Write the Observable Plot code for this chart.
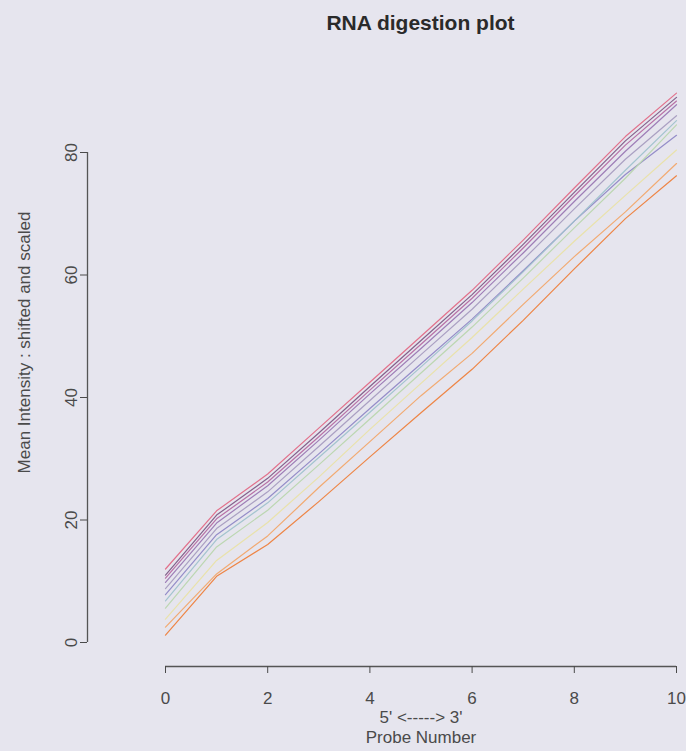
<!DOCTYPE html>
<html>
<head>
<meta charset="utf-8">
<script src="https://cdn.jsdelivr.net/npm/d3@7"></script>
<script src="https://cdn.jsdelivr.net/npm/@observablehq/plot@0.6"></script>
<style>
  html, body { margin: 0; padding: 0; background: #e6e5ee; }
  #wrap { width: 686px; height: 751px; position: relative; overflow: hidden;
          font-family: "Liberation Sans", Arial, sans-serif; }
  #title { height: 40px; box-sizing: border-box; padding-top: 12px; padding-left: 155px;
           text-align: center; font-size: 21px; line-height: 21px; font-weight: bold; color: #2a2a2a; }
</style>
</head>
<body>
<div id="wrap">
  <div id="title">RNA digestion plot</div>
  <div id="chart"></div>
</div>
<script>
// ---- data ----
const probes = [0, 1, 2, 3, 4, 5, 6, 7, 8, 9, 10];
const arrayNames = ["Array 1", "Array 2", "Array 3", "Array 4", "Array 5", "Array 6",
                    "Array 7", "Array 8", "Array 9", "Array 10", "Array 11"];
const lineColors = ["#e26a86", "#7e5a86", "#b56aa2", "#9a78b4", "#a79cc0", "#8f88c6",
                    "#9fc2cc", "#b9d6ae", "#e9e1a6", "#f2a66a", "#ee7f3c"];
const array1  = [12.0, 21.5, 27.5, 35.0, 42.5, 50.0, 57.5, 65.7, 74.2, 82.6, 89.7];
const array2  = [11.0, 20.8, 26.8, 34.2, 41.8, 49.3, 56.8, 65.0, 73.5, 81.9, 89.0];
const array3  = [10.5, 20.2, 26.2, 33.6, 41.2, 48.7, 56.2, 64.4, 72.9, 81.2, 88.4];
const array4  = [ 9.8, 19.5, 25.6, 33.0, 40.6, 48.0, 55.5, 63.6, 72.0, 80.2, 87.8];
const array5  = [ 8.8, 18.6, 24.6, 32.0, 39.5, 47.0, 54.4, 62.5, 70.8, 78.9, 86.0];
const array6  = [ 7.8, 17.6, 23.5, 30.8, 38.2, 45.5, 52.8, 60.7, 68.8, 76.4, 82.8];
const array7  = [ 6.8, 16.8, 22.8, 30.2, 37.6, 45.0, 52.5, 60.5, 68.8, 77.1, 85.2];
const array8  = [ 5.6, 15.6, 21.6, 29.0, 36.5, 44.0, 51.5, 59.5, 67.7, 75.8, 84.5];
const array9  = [ 3.8, 13.4, 19.6, 27.0, 34.8, 42.3, 49.8, 57.7, 65.5, 73.0, 80.4];
const array10 = [ 2.5, 11.2, 17.4, 25.3, 32.8, 40.3, 47.2, 55.2, 63.0, 70.3, 78.2];
const array11 = [ 1.2, 10.8, 16.0, 23.0, 30.3, 37.5, 44.6, 52.6, 61.0, 69.2, 76.2];
const xTicks = [0, 2, 4, 6, 8, 10];
const yTicks = [0, 20, 40, 60, 80];
const yTitle = "Mean Intensity : shifted and scaled";
const xTitle = "5' <-----> 3'\nProbe Number";

const seriesValues = [array1, array2, array3, array4, array5, array6, array7, array8, array9, array10, array11];
const rows = arrayNames.flatMap((name, i) =>
  probes.map((p, j) => ({probe: p, value: seriesValues[i][j], array: name})));

const xExt = d3.extent(xTicks);
const yExt = d3.extent(yTicks);

const chart = Plot.plot({
  width: 686,
  height: 711,
  marginLeft: 87,
  marginRight: 10,
  marginTop: 0,
  marginBottom: 85,
  style: {background: "transparent", fontFamily: "'Liberation Sans', Arial, sans-serif", color: "#4a4a4a", overflow: "visible"},
  x: {domain: xExt, range: [165, 676]},
  y: {domain: [0, 80], range: [602, 112]},
  color: {domain: arrayNames, range: lineColors},
  marks: [
    // axis domain lines (R-style, spanning first to last tick, offset from data)
    Plot.ruleY([yExt[0]], {x1: xExt[0], x2: xExt[1], dy: 24, stroke: "#555", strokeWidth: 1.3}),
    Plot.ruleX([xExt[0]], {y1: yExt[0], y2: yExt[1], dx: -78, stroke: "#555", strokeWidth: 1.3}),
    Plot.axisX(xTicks, {anchor: "bottom", tickSize: 7, tickPadding: 18, fontSize: 17, color: "#4a4a4a", label: null}),
    Plot.axisY(yTicks, {anchor: "left", tickSize: 7, tickPadding: 4, tickRotate: -90, fontSize: 17, color: "#4a4a4a", label: null}),
    Plot.line(rows, {x: "probe", y: "value", z: "array", stroke: "array", strokeWidth: 1.2, strokeOpacity: 0.95}),
    Plot.text([yTitle], {frameAnchor: "left", text: d => d, rotate: -90, dx: -63, dy: -11,
                         textAnchor: "middle", lineAnchor: "middle", fontSize: 17, fill: "#4a4a4a"}),
    Plot.text([xTitle], {frameAnchor: "bottom", text: d => d, dx: 39, dy: 42, lineAnchor: "top",
                         lineHeight: 1.2, textAnchor: "middle", fontSize: 17, fill: "#4a4a4a"})
  ]
});
document.getElementById("chart").appendChild(chart);
</script>
</body>
</html>
